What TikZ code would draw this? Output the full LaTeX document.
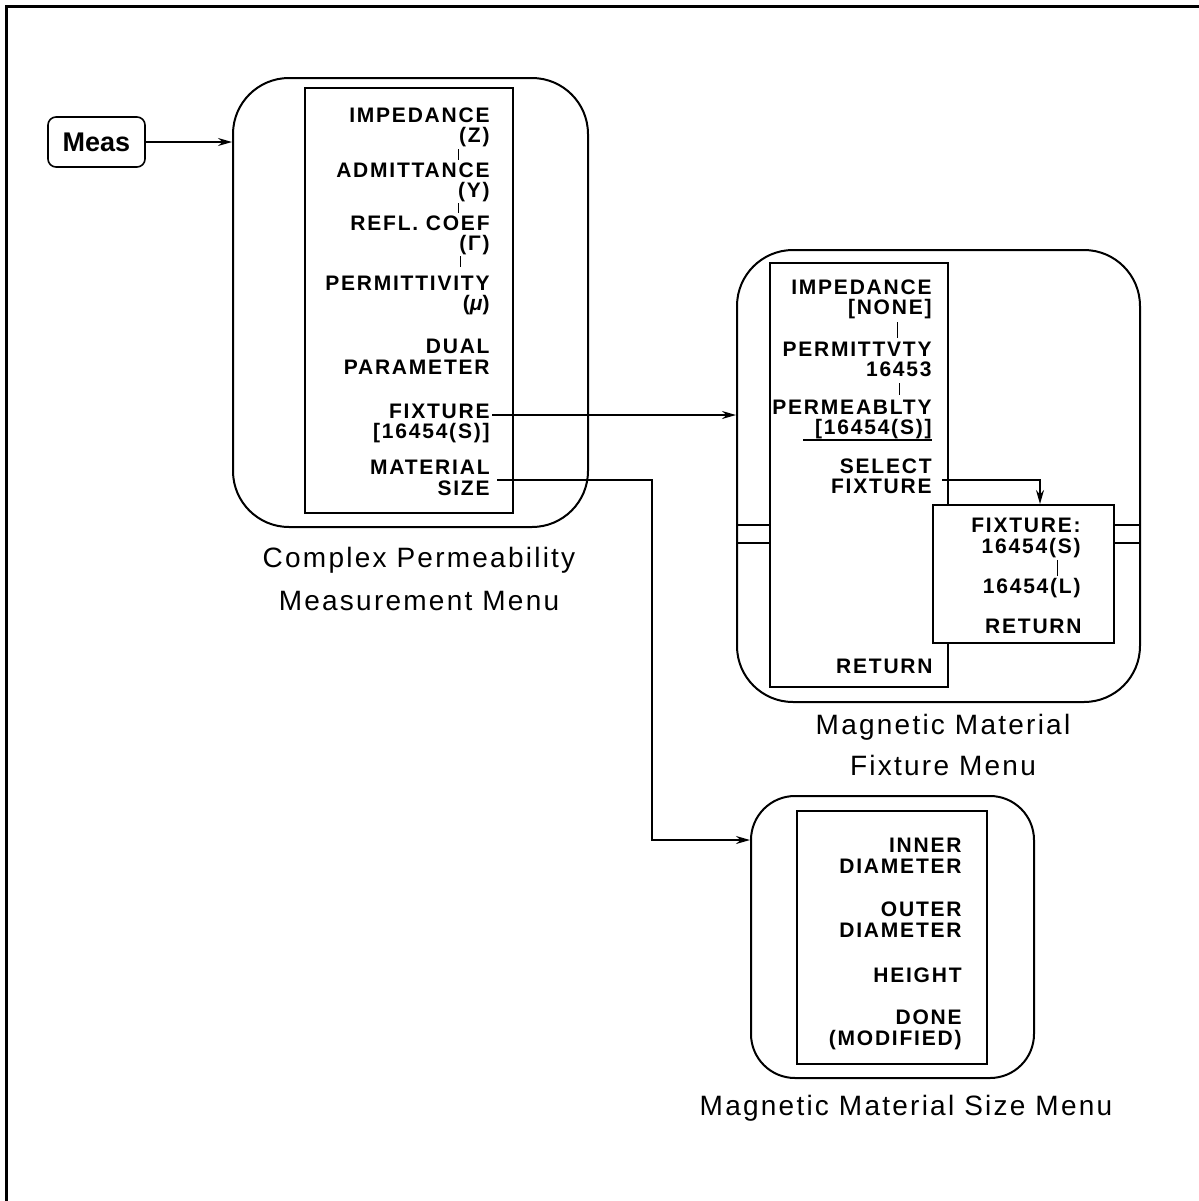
\documentclass[tikz,border=0pt]{standalone}
\usepackage{fontspec}
\setmainfont{Liberation Sans}
\newfontfamily\menuf{Liberation Sans}[LetterSpace=8.5]
\newfontfamily\capf{Liberation Sans}[LetterSpace=8]
\usetikzlibrary{arrows.meta,fit}
\begin{document}
\begin{tikzpicture}[x=0.5pt,y=-0.5pt,
 outerbox/.style={draw,line width=1pt,rounded corners=28pt,inner sep=0pt},
 smallouter/.style={draw,line width=1pt,rounded corners=22pt,inner sep=0pt},
 menubox/.style={draw,line width=1pt,inner sep=0pt},
 item/.style={anchor=base east,inner sep=0pt,font=\menuf\bfseries\fontsize{10.5}{12}\selectfont},
 capt/.style={anchor=base,inner sep=0pt,font=\capf\fontsize{14}{16}\selectfont},
 arr/.style={-{Stealth[length=7pt,width=4pt]},line width=0.8pt},
 conn/.style={line width=0.8pt},
 tick/.style={line width=0.4pt},
 frame/.style={line width=1.5pt}]
\useasboundingbox (0,0) rectangle (1199,1201);
% page frame (top and left only)
\draw[frame] (6,1201) -- (6,6) -- (1199,6);

% Meas key
\node[draw,line width=0.8pt,rounded corners=4pt,minimum width=48.5pt,minimum height=25pt,inner sep=0pt,
  font=\bfseries\fontsize{13.5}{15}\selectfont] (meas) at (96.5,142) {Meas};

% ---- Box 1: Complex Permeability Measurement Menu
\node[outerbox,fit={(233,78) (588,527)}] (b1o) {};
\node[menubox,fit={(305,88) (513,513)}] (b1i) {};
\node[item] (a1) at (490,122) {IMPEDANCE};
\node[item] (a2) at (490,142) {(Z)};
\node[item] (a3) at (490,177) {ADMITTANCE};
\node[item] (a4) at (490,197) {(Y)};
\node[item] (a5) at (490,230) {REFL. COEF};
\node[item] (a6) at (490,250) {(Γ)};
\node[item] (a7) at (490,290) {PERMITTIVITY};
\node[item] (a8) at (490,310) {({\itshape μ})};
\node[item] (a9) at (490,353) {DUAL};
\node[item] (a10) at (490,374) {PARAMETER};
\node[item] (a11) at (490,418) {FIXTURE};
\node[item] (a12) at (490,438) {[16454(S)]};
\node[item] (a13) at (490,474) {MATERIAL};
\node[item] (a14) at (490,495) {SIZE};
\draw[tick] (458,149) -- (458,160);
\draw[tick] (458,203) -- (458,213);
\draw[tick] (460,256) -- (460,267);
\node[capt] (c1a) at (419,567) {Complex Permeability};
\node[capt] (c1b) at (419,610) {Measurement Menu};

% ---- Box 2: Magnetic Material Fixture Menu
\node[outerbox,fit={(737,250) (1140,702)}] (b2o) {};
\node[menubox,fit={(770,263) (948,687)}] (b2i) {};
\draw[conn] (737,525) -- (770,525) (737,543) -- (770,543)
            (1114,525) -- (1140,525) (1114,543) -- (1140,543);
\node[item] (f1) at (932,294) {IMPEDANCE};
\node[item] (f2) at (932,314) {[NONE]};
\node[item] (f3) at (932,356) {PERMITTVTY};
\node[item] (f4) at (932,376) {16453};
\node[item] (f5) at (932,414) {PERMEABLTY};
\node[item] (f6) at (932,434) {[16454(S)]};
\node[item] (f7) at (932,473) {SELECT};
\node[item] (f8) at (932,493) {FIXTURE};
\node[item] (f9) at (933,673) {RETURN};
\draw[line width=0.8pt] (803,440) -- (932,440);
\draw[tick] (897,322) -- (897,338);
\draw[tick] (899,383) -- (899,395);
% sub menu
\node[menubox,fill=white,fit={(933,505) (1114,643)}] (sub) {};
\node[item] (s1) at (1081,532) {FIXTURE:};
\node[item] (s2) at (1081,553) {16454(S)};
\node[item] (s3) at (1081,593) {16454(L)};
\node[item] (s4) at (1082,633) {RETURN};
\draw[tick] (1057,560) -- (1057,576);
\node[capt] (c2a) at (943,734) {Magnetic Material};
\node[capt] (c2b) at (943,775) {Fixture Menu};

% ---- Box 3: Magnetic Material Size Menu
\node[smallouter,fit={(751,796) (1034,1078)}] (b3o) {};
\node[menubox,fit={(797,811) (987,1064)}] (b3i) {};
\node[item] (d1) at (962,852) {INNER};
\node[item] (d2) at (962,873) {DIAMETER};
\node[item] (d3) at (962,916) {OUTER};
\node[item] (d4) at (962,937) {DIAMETER};
\node[item] (d5) at (962,982) {HEIGHT};
\node[item] (d6) at (962,1024) {DONE};
\node[item] (d7) at (962,1045) {(MODIFIED)};
\node[capt] (c3) at (906,1115) {Magnetic Material Size Menu};

% ---- connectors
\draw[arr] (meas.east) -- (meas.east -| b1o.west);
\coordinate (p0) at (492,415);
\draw[arr] (p0) -- (p0 -| b2o.west);
\coordinate (m0) at (497,480);
\coordinate (m2) at (652,840);
\draw[arr] (m0) -| (m2) -- (m2 -| b3o.west);
\coordinate (q0) at (942,480);
\coordinate (q1) at (1040,480);
\draw[arr] (q0) -- (q1) -- (q1 |- sub.north);
\end{tikzpicture}
\end{document}
